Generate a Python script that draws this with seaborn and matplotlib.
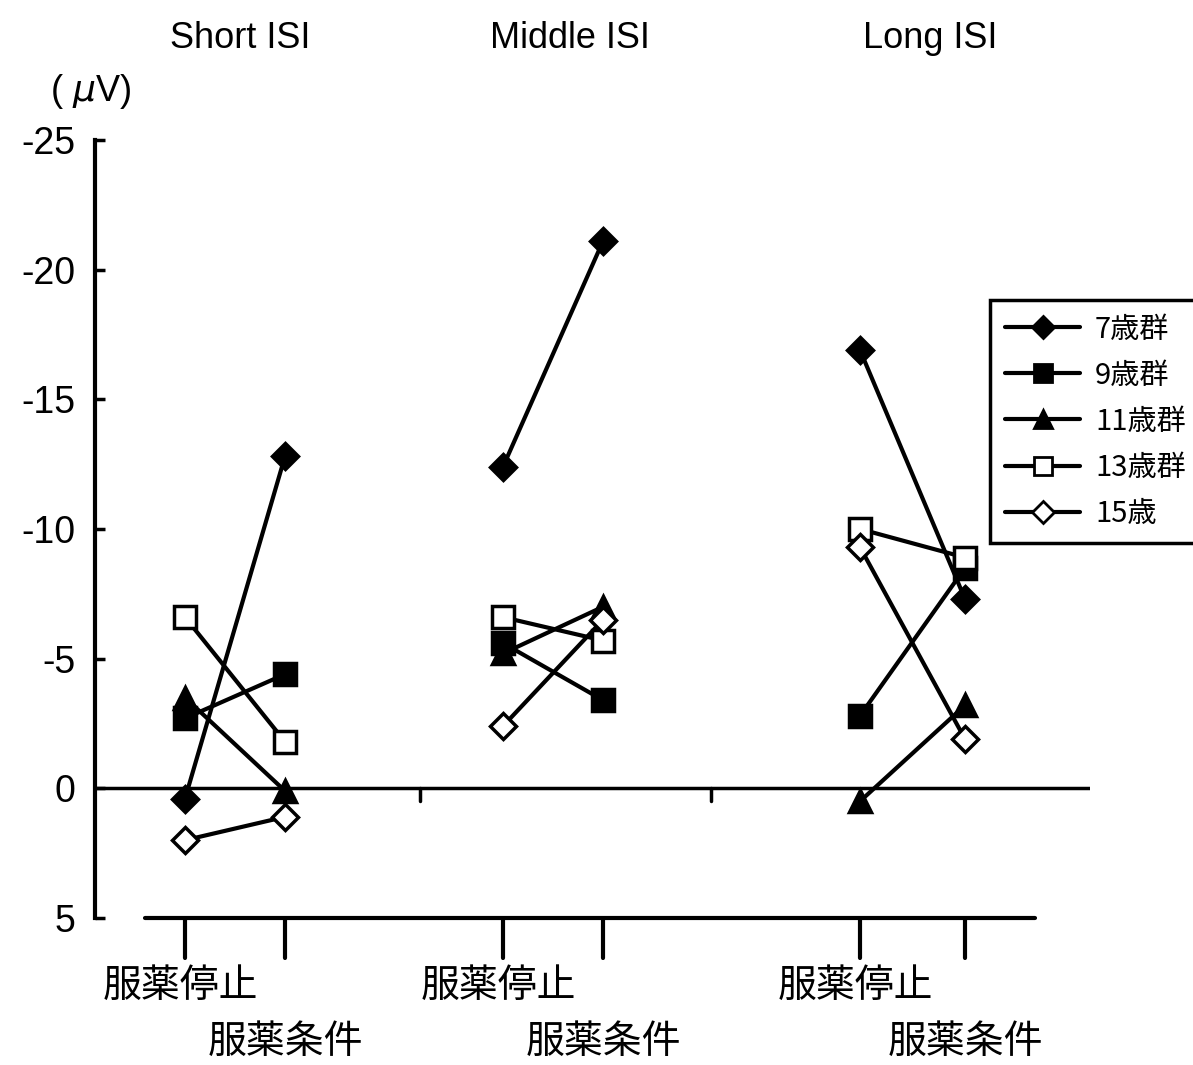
import numpy as np
import pandas as pd
import seaborn as sns
import matplotlib.pyplot as plt
from matplotlib.lines import Line2D

# data (uV); each list = [Short, Middle, Long] ISI
isi_labels = ["Short ISI", "Middle ISI", "Long ISI"]
conditions = ["服薬停止", "服薬条件"]
groups = ["7歳群", "9歳群", "11歳群", "13歳群", "15歳"]

stop_7 = [0.4, -12.4, -16.9]
cond_7 = [-12.8, -21.1, -7.3]
stop_9 = [-2.7, -5.6, -2.8]
cond_9 = [-4.4, -3.4, -8.5]
stop_11 = [-3.5, -5.2, 0.5]
cond_11 = [0.1, -7.0, -3.2]
stop_13 = [-6.6, -6.6, -10.0]
cond_13 = [-1.8, -5.7, -8.9]
stop_15 = [2.0, -2.4, -9.3]
cond_15 = [1.1, -6.5, -1.9]

stops = [stop_7, stop_9, stop_11, stop_13, stop_15]
conds = [cond_7, cond_9, cond_11, cond_13, cond_15]

# layout (x positions in 100-px units)
x_stop = [1.85, 5.03, 8.60]
x_cond = [2.85, 6.03, 9.65]
x_title = [2.40, 5.70, 9.30]
markers = ["D", "s", "^", "s", "D"]
faces = ["black", "black", "black", "white", "white"]
msizes = [13, 16, 16, 16, 13]

sns.set_theme(style="white")
plt.rcParams["font.family"] = ["Liberation Sans Narrow", "Liberation Sans", "Noto Sans CJK JP", "DejaVu Sans"]
plt.rcParams["text.color"] = "black"
plt.rcParams["ytick.color"] = "black"
plt.rcParams["ytick.labelcolor"] = "black"
cjk = ["Noto Sans CJK JP", "DejaVu Sans"]

fig = plt.figure(figsize=(11.93, 10.65), dpi=100)
W, H = 1193, 1065
ax = fig.add_axes([95 / W, 1 - 918 / H, (1090 - 95) / W, (918 - 140) / H])

rows = []
for g, s, c in zip(groups, stops, conds):
    for i in range(3):
        rows.append(dict(group=g, isi=i, x=x_stop[i], v=s[i]))
        rows.append(dict(group=g, isi=i, x=x_cond[i], v=c[i]))
df = pd.DataFrame(rows)

for g, m, fc, ms in zip(groups, markers, faces, msizes):
    sns.lineplot(data=df[df.group == g], x="x", y="v", units="isi", estimator=None,
                 color="black", lw=3, marker=m, markersize=ms, markerfacecolor=fc,
                 markeredgecolor="black", markeredgewidth=2.5, ax=ax, legend=False)

ax.set_xlim(0.95, 10.90)
ax.set_ylim(5, -25)
ax.set_yticks([-25, -20, -15, -10, -5, 0, 5])
ax.set_yticklabels(["-25", "-20", "-15", "-10", "-5", "0", "5"], fontsize=27)
ax.tick_params(axis="y", direction="in", length=7, width=2.5, pad=14, left=True)
ax.set_xticks([])
ax.set_xlabel("")
ax.set_ylabel("")
for sp in ["top", "right", "bottom"]:
    ax.spines[sp].set_visible(False)
ax.spines["left"].set_linewidth(3)
ax.spines["left"].set_color("black")

# zero line with group separators
ax.axhline(0, color="black", lw=2.5, zorder=1)
for xs in [4.20, 7.11]:
    ax.plot([xs, xs], [0, 0.5], color="black", lw=2.5)

# category axis below
axb = fig.add_axes([145 / W, 1 - 958 / H, (1035 - 145) / W, 40 / H])
axb.set_xlim(1.45, 10.35)
axb.set_ylim(0, 1)
axb.axis("off")
axb.axhline(1, color="black", lw=3, clip_on=False)
for xs, xc in zip(x_stop, x_cond):
    axb.plot([xs, xs], [0, 1], color="black", lw=3, clip_on=False)
    axb.plot([xc, xc], [0, 1], color="black", lw=3, clip_on=False)
    axb.text(xs - 0.05, -0.7, conditions[0], ha="center", va="center", fontsize=28, family=cjk)
    axb.text(xc, -2.1, conditions[1], ha="center", va="center", fontsize=28, family=cjk)

# ISI titles and unit
for lab, xt in zip(isi_labels, x_title):
    ax.text(xt, 1.13, lab, transform=ax.get_xaxis_transform(),
            ha="center", va="center", fontsize=26)
ax.text(-0.005, 1.062, "( $\\mu$V)", transform=ax.transAxes, ha="center", va="center", fontsize=26)

# legend
handles = [Line2D([], [], color="black", lw=3, marker=m, markersize=ms * 0.85,
                  markerfacecolor=fc, markeredgecolor="black", markeredgewidth=2)
           for m, fc, ms in zip(markers, faces, msizes)]
leg = fig.legend(handles, groups, loc="upper left", bbox_to_anchor=(990 / W, 1 - 300 / H),
                 frameon=True, fancybox=False, edgecolor="black", framealpha=1,
                 handlelength=2.6, prop={"family": cjk, "size": 21}, labelspacing=0.55,
                 borderpad=0.5, handletextpad=0.5, borderaxespad=0)
leg.get_frame().set_linewidth(2.5)

fig.savefig("out.png", dpi=100, facecolor="white")
